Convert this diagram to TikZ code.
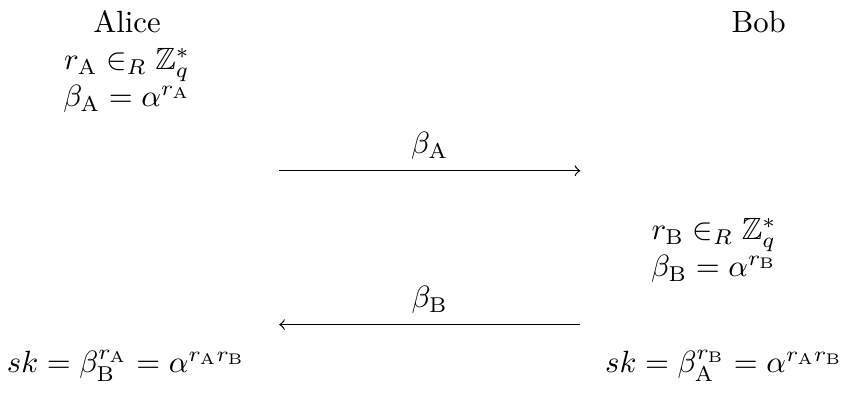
\documentclass[tikz,border=0pt]{standalone}
\usepackage{tikz}
\usepackage{amsmath, amssymb}

\begin{document}
\begin{tikzpicture}[scale=0.962]
    \useasboundingbox (0,0) rectangle (10,-4.709);

    %Parties
    \node (alice) at (1.51,-0.26) {Alice};
    \node (bob) at (9.02,-0.26) {Bob};

    %Alice's side
    \node[align=center] (achoice) at (1.51,-0.96) {$r_{\mathrm{A}} \in_R \mathbb{Z}_q^*$\\ $\beta_{\mathrm{A}} = \alpha^{r_{\mathrm{A}}}$};

    %Bob's side
    \node[align=center] (bchoice) at (8.49,-2.98) {$r_{\mathrm{B}} \in_R \mathbb{Z}_q^*$\\ $\beta_{\mathrm{B}} = \alpha^{r_{\mathrm{B}}}$};

    %Keys
    \node (ska) at (1.50,-4.35) {$sk = \beta_{\mathrm{B}}^{r_{\mathrm{A}}} = \alpha^{r_{\mathrm{A}}r_{\mathrm{B}}}$};
    \node (skb) at (8.61,-4.35) {$sk = \beta_{\mathrm{A}}^{r_{\mathrm{B}}} = \alpha^{r_{\mathrm{A}}r_{\mathrm{B}}}$};

    %Messages
    \coordinate (m1s) at (3.32,-2.03);
    \coordinate (m1e) at (6.90,-2.03);
    \coordinate (m2s) at (6.90,-3.86);
    \coordinate (m2e) at (3.32,-3.86);

    \draw[->] (m1s) -- node[above] (lbla) {$\beta_{\mathrm{A}}$} (m1e);
    \draw[->] (m2s) -- node[above] (lblb) {$\beta_{\mathrm{B}}$} (m2e);

\end{tikzpicture}
\end{document}
